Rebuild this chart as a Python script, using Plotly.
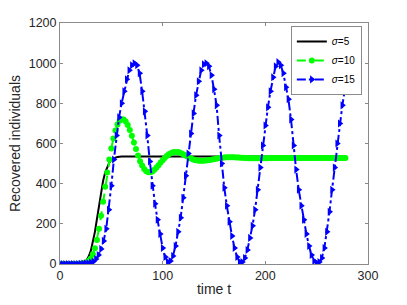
import plotly.graph_objects as go

# ---- data ----
t_black = [0, 10, 18, 20, 22, 24, 26, 28, 30, 32, 34, 36, 38, 40, 42, 44, 46, 48, 50,
           52, 54, 56, 58, 60, 70, 80, 100, 120, 140, 160, 180, 200, 220, 240, 260, 278]
r_black = [0, 0, 0, 2, 5, 10, 20, 38, 65, 105, 160, 225, 295, 360, 415, 455, 485, 505, 518,
           526, 530, 533, 534, 535, 535, 535, 535, 535, 535, 535, 535, 535, 535, 535, 535, 535]

t_green = [2 * i for i in range(140)]
r_green = [0, 0, 0, 0, 0, 0, 0, 0, 0, 1,
           1, 3, 5, 9, 16, 28, 48, 78, 120, 175,
           240, 310, 385, 455, 520, 575, 625, 665, 695, 713,
           721, 720, 710, 692, 667, 638, 605, 572, 540, 512,
           490, 473, 462, 457, 457, 461, 469, 480, 492, 505,
           517, 528, 538, 546, 552, 556, 558, 558, 556, 552,
           547, 541, 535, 529, 524, 520, 517, 515, 514, 514,
           514, 515, 516, 518, 520, 522, 524, 526, 528, 529,
           530, 531, 531, 531, 531, 531, 530, 530, 529, 529,
           528, 528, 527, 527, 527, 527, 527, 527, 527, 527,
           527, 527, 528, 528, 528, 528, 528, 528, 528, 528,
           528, 528, 528, 528, 528, 528, 528, 528, 528, 528,
           528, 528, 528, 528, 528, 528, 528, 528, 528, 528,
           528, 528, 528, 528, 528, 528, 528, 528, 528, 528]

t_blue = [2.5 * i for i in range(112)]
r_blue = [0, 0, 0, 0, 0, 0, 0, 0, 1, 2,
          3, 4, 7, 12, 25, 45, 75, 115, 175, 270,
          390, 520, 640, 730, 800, 860, 920, 965, 990, 1000,
          990, 950, 860, 760, 640, 510, 390, 300, 220, 150,
          80, 35, 10, 15, 40, 90, 160, 230, 330, 440,
          550, 650, 750, 840, 910, 965, 995, 1000, 985, 940,
          870, 790, 640, 500, 380, 290, 210, 140, 80, 35,
          10, 10, 30, 70, 130, 190, 270, 370, 480, 590,
          690, 780, 860, 930, 985, 1005, 990, 950, 880, 820,
          720, 590, 470, 370, 290, 220, 150, 90, 45, 15,
          5, 10, 30, 80, 160, 260, 370, 480, 600, 700,
          790, 870]

names = ["<i>σ</i>=5", "<i>σ</i>=10", "<i>σ</i>=15"]
x_ticks = [0, 100, 200, 300]
y_ticks = [0, 200, 400, 600, 800, 1000, 1200]

fig = go.Figure()
fig.add_trace(go.Scatter(x=t_black, y=r_black, mode="lines", name=names[0],
                         line=dict(color="black", width=2)))
fig.add_trace(go.Scatter(x=t_green, y=r_green, mode="lines+markers", name=names[1],
                         line=dict(color="#00ff00", width=2, dash="dash"),
                         marker=dict(symbol="circle", size=6, color="#00ff00")))
fig.add_trace(go.Scatter(x=t_blue, y=r_blue, mode="lines+markers", name=names[2],
                         line=dict(color="#0000ff", width=2, dash="dashdot"),
                         marker=dict(symbol="triangle-right", size=7, color="#0000ff")))

axis_common = dict(showgrid=False, zeroline=False, showline=True, linecolor="#8a8a8a",
                   linewidth=1, mirror="ticks", ticks="inside", ticklen=3, automargin=False,
                   tickcolor="#8a8a8a", tickfont=dict(family="Liberation Sans", size=12.5, color="#262626"))

fig.update_layout(
    width=407, height=305,
    margin=dict(l=60, r=39, t=23, b=41),
    paper_bgcolor="white", plot_bgcolor="white",
    font=dict(family="Liberation Sans", color="#262626"),
    xaxis=dict(range=[0, 300], tickvals=x_ticks,
               title=dict(text="time t", font=dict(size=14), standoff=2), **axis_common),
    yaxis=dict(range=[0, 1200], tickvals=y_ticks,
               title=dict(text="Recovered individuals", font=dict(size=14), standoff=4), **axis_common),
    legend=dict(x=0.98, y=0.988, xanchor="right", yanchor="top",
                bgcolor="white", bordercolor="#8a8a8a", borderwidth=1,
                font=dict(family="Liberation Sans", size=10, color="#000000"),
                tracegroupgap=0, itemwidth=30),
    showlegend=True,
)

fig.write_html("out.html", config={"displayModeBar": False},
               post_script="document.body.style.margin='0px';")
